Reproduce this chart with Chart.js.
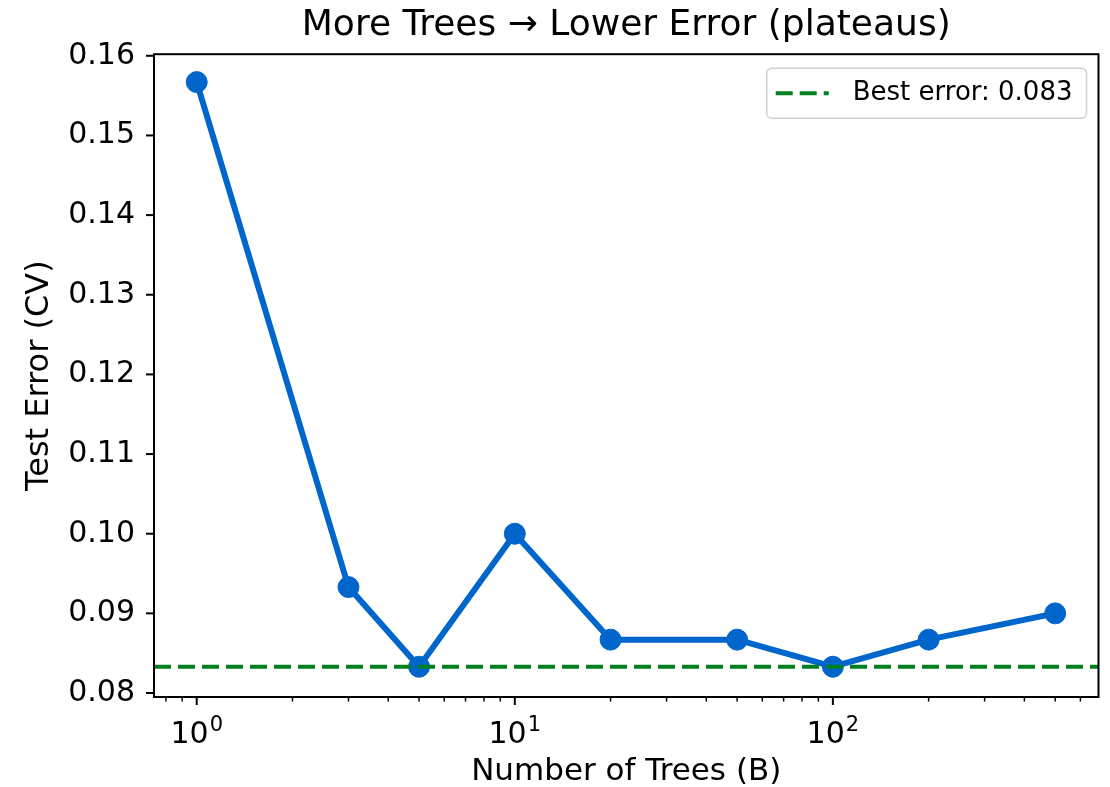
<!DOCTYPE html>
<html>
<head>
<meta charset="utf-8">
<script src="https://cdn.jsdelivr.net/npm/chart.js@4/dist/chart.umd.min.js"></script>
<style>
  html, body { margin: 0; padding: 0; background: #fff; }
  #wrap { width: 1110px; height: 787px; }
</style>
</head>
<body>
<div id="wrap"><canvas id="trees-chart" width="1110" height="787"></canvas></div>
<script>
// data
const numTrees = [1, 3, 5, 10, 20, 50, 100, 200, 500];
const testError = [0.1567, 0.0933, 0.0833, 0.1, 0.0867, 0.0867, 0.0833, 0.0867, 0.09];
const yTicks = [0.08, 0.09, 0.10, 0.11, 0.12, 0.13, 0.14, 0.15, 0.16];
const xDecades = [1, 10, 100];

// axis limits (matplotlib style margins)
const xMin = 0.734, xMax = 684;
const yMin = 0.0795, yMax = 0.1602;

const bestError = Math.min(...testError);
const blue = '#0066CC';
const green = '#008020';
const FONT = "'DejaVu Sans', sans-serif";

Chart.defaults.font.family = FONT;
Chart.defaults.color = '#000';

// box around the plot area, tick marks and 10^k labels
const frame = {
    id: 'frame',
    afterDatasetsDraw(chart) {
        const { ctx, chartArea: a, scales: { x, y } } = chart;
        ctx.save();
        ctx.strokeStyle = '#000';
        ctx.lineWidth = 2;
        ctx.strokeRect(a.left, a.top, a.right - a.left, a.bottom - a.top);

        x.ticks.forEach(t => {
            const px = x.getPixelForValue(t.value);
            ctx.lineWidth = t.major ? 2 : 1.5;
            ctx.beginPath();
            ctx.moveTo(px, a.bottom);
            ctx.lineTo(px, a.bottom + (t.major ? 8 : 4.5));
            ctx.stroke();
        });
        y.ticks.forEach(t => {
            const py = y.getPixelForValue(t.value);
            ctx.lineWidth = 2;
            ctx.beginPath();
            ctx.moveTo(a.left, py);
            ctx.lineTo(a.left - 8, py);
            ctx.stroke();
        });

        // decade labels with a real superscript exponent
        ctx.fillStyle = '#000';
        ctx.textBaseline = 'alphabetic';
        ctx.textAlign = 'left';
        xDecades.forEach(d => {
            const px = x.getPixelForValue(d);
            const base = '10';
            const exp = String(Math.round(Math.log10(d)));
            ctx.font = '30px ' + FONT;
            const wb = ctx.measureText(base).width;
            ctx.font = '21px ' + FONT;
            const we = ctx.measureText(exp).width;
            const x0 = px - (wb + we + 1) / 2;
            const baseY = a.bottom + 46;
            ctx.font = '30px ' + FONT;
            ctx.fillText(base, x0, baseY);
            ctx.font = '21px ' + FONT;
            ctx.fillText(exp, x0 + wb + 1, baseY - 12);
        });
        ctx.restore();
    }
};

// legend box in the upper right corner of the axes
const cornerLegend = {
    id: 'cornerLegend',
    afterDraw(chart) {
        const { ctx, chartArea: a } = chart;
        const ds = chart.data.datasets[0];
        ctx.save();
        ctx.font = '26px ' + FONT;
        const tw = ctx.measureText(ds.label).width;
        const w = 9 + 53 + 24 + tw + 14;
        const h = 50;
        const bx = a.right - 12 - w;
        const by = a.top + 14;

        ctx.beginPath();
        ctx.roundRect(bx, by, w, h, 5);
        ctx.fillStyle = 'rgba(255,255,255,0.85)';
        ctx.fill();
        ctx.strokeStyle = '#d0d0d0';
        ctx.lineWidth = 1.5;
        ctx.stroke();

        const cy = by + h / 2;
        ctx.strokeStyle = ds.borderColor;
        ctx.lineWidth = ds.borderWidth;
        ctx.setLineDash(ds.borderDash);
        ctx.beginPath();
        ctx.moveTo(bx + 9, cy);
        ctx.lineTo(bx + 9 + 53, cy);
        ctx.stroke();
        ctx.setLineDash([]);

        ctx.fillStyle = '#000';
        ctx.textBaseline = 'middle';
        ctx.fillText(ds.label, bx + 9 + 53 + 24, cy);
        ctx.restore();
    }
};

const ctx = document.getElementById('trees-chart').getContext('2d');

new Chart(ctx, {
    type: 'line',
    data: {
        datasets: [{
            label: 'Best error: ' + bestError.toFixed(3),
            data: [{ x: xMin, y: bestError }, { x: xMax, y: bestError }],
            borderColor: green,
            borderWidth: 4,
            borderDash: [17, 7],
            pointRadius: 0,
            order: 0
        }, {
            label: 'Test error',
            data: numTrees.map((n, i) => ({ x: n, y: testError[i] })),
            borderColor: blue,
            backgroundColor: blue,
            borderWidth: 6,
            pointRadius: 10.5,
            pointBorderWidth: 1,
            pointBackgroundColor: blue,
            pointBorderColor: blue,
            order: 1
        }]
    },
    options: {
        responsive: false,
        animation: false,
        layout: { padding: { left: 0, right: 11, top: 0, bottom: 0 } },
        plugins: {
            legend: { display: false },
            tooltip: { enabled: false },
            title: {
                display: true,
                text: 'More Trees \u2192 Lower Error (plateaus)',
                fullSize: false,
                font: { size: 36, weight: 'normal' },
                padding: { top: 4, bottom: 7 },
                color: '#000'
            }
        },
        scales: {
            x: {
                type: 'logarithmic',
                bounds: 'data',
                min: xMin,
                max: xMax,
                grid: { display: false, drawTicks: false },
                border: { display: false },
                afterBuildTicks(scale) {
                    const ticks = [];
                    [0.1, 1, 10, 100].forEach(d => {
                        for (let m = 1; m < 10; m++) {
                            const v = +(d * m).toPrecision(3);
                            if (v >= xMin && v <= xMax) {
                                ticks.push({ value: v, major: xDecades.includes(v) });
                            }
                        }
                    });
                    scale.ticks = ticks;
                },
                afterDataLimits(scale) {
                    scale.min = xMin;
                    scale.max = xMax;
                },
                afterFit(scale) { scale.height = 90; },
                ticks: {
                    autoSkip: false,
                    maxRotation: 0,
                    padding: 14,
                    font: { size: 30 },
                    callback: () => ''
                },
                title: {
                    display: true,
                    text: 'Number of Trees (B)',
                    font: { size: 31, lineHeight: 1 },
                    padding: 0
                }
            },
            y: {
                bounds: 'data',
                min: yMin,
                max: yMax,
                grid: { display: false, drawTicks: false },
                border: { display: false },
                afterBuildTicks(scale) {
                    scale.ticks = yTicks.map(v => ({ value: v }));
                },
                afterFit(scale) { scale.width = 154; },
                ticks: {
                    padding: 19,
                    font: { size: 30 },
                    callback: (value) => value.toFixed(2)
                },
                title: {
                    display: true,
                    text: 'Test Error (CV)',
                    font: { size: 32, lineHeight: 1 },
                    padding: { top: 24, bottom: 0 }
                }
            }
        }
    },
    plugins: [frame, cornerLegend]
});
</script>
</body>
</html>
